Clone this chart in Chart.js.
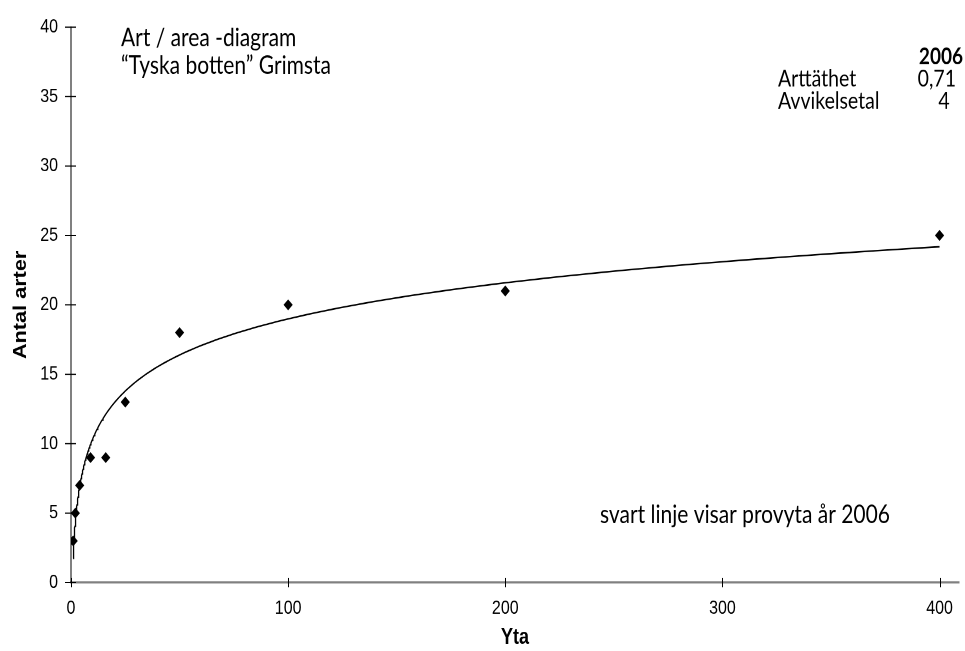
<!DOCTYPE html>
<html>
<head>
<meta charset="utf-8">
<script src="https://cdn.jsdelivr.net/npm/chart.js@4.4.1/dist/chart.umd.min.js"></script>
<style>
  html, body { margin: 0; padding: 0; background: #fff; }
  #page { width: 965px; height: 651px; overflow: hidden; position: relative; }
  /* originalbilden är något utdragen på höjden, därför ritas diagrammet lägre och sträcks */
  #wrap { position: absolute; left: 0; top: 0; width: 965px; height: 542px; transform: scaleY(1.2011); transform-origin: 0 0; }
</style>
</head>
<body>
<div id="page"><div id="wrap"><canvas id="c" width="965" height="542"></canvas></div></div>
<script>
/* data */
const areas   = [1, 2, 4, 9, 16, 25, 50, 100, 200, 400];   // Yta
const species = [3, 5, 7, 9, 9, 13, 18, 20, 21, 25];        // Antal arter
const xTicks = [0, 100, 200, 300, 400];
const yTicks = [0, 5, 10, 15, 20, 25, 30, 35, 40];

const noteLines = ['Art / area -diagram', '\u201CTyska botten\u201D Grimsta'];
const statYear = '2006';
const statNames = ['Arttäthet', 'Avvikelsetal'];
const statValues = ['0,71', '4'];
const footNote = 'svart linje visar provyta år 2006';

// logaritmisk trendlinje (minsta kvadrat) y = a*ln(x) + b, som i Excel
function logFit(xs, ys){
  const ls = xs.map(Math.log);
  const n = xs.length;
  const ml = ls.reduce((s,v)=>s+v,0)/n;
  const my = ys.reduce((s,v)=>s+v,0)/n;
  let sxy = 0, sxx = 0;
  ls.forEach((l,i)=>{ sxy += (l-ml)*(ys[i]-my); sxx += (l-ml)*(l-ml); });
  const a = sxy/sxx;
  return { a, b: my - a*ml };
}
const fit = logFit(areas, species);
const xMin = Math.min(...areas), xMax = Math.max(...areas);
const trend = [];
for (let x = xMin; x < xMax; x *= 1.03) trend.push({ x, y: fit.a*Math.log(x) + fit.b });
trend.push({ x: xMax, y: fit.a*Math.log(xMax) + fit.b });

const FONT_AX = "Arial, 'Liberation Sans', Helvetica, sans-serif";
const FONT_NOTE = "Lato, 'Open Sans', sans-serif";

// korsande tickmarkeringar som i Excel
const crossTicks = {
  id: 'crossTicks',
  afterDraw(chart){
    const {ctx, scales:{x, y}} = chart;
    ctx.save();
    ctx.strokeStyle = '#000';
    ctx.lineWidth = 1;
    ctx.beginPath();
    yTicks.forEach(v=>{
      const py = y.getPixelForValue(v);
      ctx.moveTo(x.left - 6, py); ctx.lineTo(x.left + 5, py);
    });
    xTicks.forEach(v=>{
      const px = Math.round(x.getPixelForValue(v)) + 0.5;
      ctx.moveTo(px, y.bottom - 4); ctx.lineTo(px, y.bottom + 4);
    });
    ctx.stroke();
    ctx.restore();
  }
};

const notes = {
  id: 'notes',
  afterDraw(chart){
    const ctx = chart.ctx;
    ctx.save();
    ctx.fillStyle = '#000';
    ctx.textBaseline = 'alphabetic';
    ctx.font = `21px ${FONT_NOTE}`;
    ctx.textAlign = 'left';
    ctx.fillText(noteLines[0], 121, 38.3);
    ctx.fillText(noteLines[1], 121, 61.6);
    ctx.fillText(footNote, 600, 435.4);
    ctx.font = `bold 19px ${FONT_NOTE}`;
    ctx.textAlign = 'right';
    ctx.fillText(statYear, 963, 53.3);
    ctx.font = `19.5px ${FONT_NOTE}`;
    ctx.textAlign = 'left';
    ctx.fillText(statNames[0], 778, 72);
    ctx.fillText(statNames[1], 778, 90.5);
    ctx.textAlign = 'right';
    ctx.fillText(statValues[0], 956, 72);
    ctx.textAlign = 'center';
    ctx.fillText(statValues[1], 944, 90.5);
    ctx.restore();
  }
};

new Chart(document.getElementById('c'), {
  type: 'scatter',
  data: {
    datasets: [
      {
        label: 'Antal arter',
        data: areas.map((x,i)=>({ x, y: species[i] })),
        pointStyle: 'rectRot',
        pointRadius: 4.6,
        backgroundColor: '#000',
        borderColor: '#000',
        borderWidth: 0,
        order: 1
      },
      {
        label: 'trend',
        data: trend,
        showLine: true,
        pointRadius: 0,
        borderColor: '#000',
        borderWidth: 1.3,
        fill: false,
        order: 2
      }
    ]
  },
  options: {
    responsive: false,
    animation: false,
    devicePixelRatio: 2,
    layout: { padding: { top: 16, right: 1, bottom: 0, left: 0 } },
    plugins: { legend: { display: false }, tooltip: { enabled: false } },
    scales: {
      x: {
        type: 'linear',
        min: 0, max: 409,
        afterBuildTicks: s => { s.ticks = xTicks.map(v=>({ value: v })); },
        afterFit: s => { s.height = 57; },
        grid: { display: false, drawTicks: false },
        border: { display: true, color: '#808080', width: 1.7 },
        ticks: { color: '#000', font: { family: FONT_AX, size: 16 }, padding: 12, maxRotation: 0 },
        title: { display: true, text: 'Yta', color: '#000', font: { family: FONT_AX, size: 18, weight: 'bold' }, padding: { top: 4, bottom: 0 } }
      },
      y: {
        type: 'linear',
        min: 0, max: 40,
        afterBuildTicks: s => { s.ticks = yTicks.map(v=>({ value: v })); },
        afterFit: s => { s.width = 71; },
        grid: { display: false, drawTicks: false },
        border: { display: true, color: '#000', width: 1 },
        ticks: { color: '#000', font: { family: FONT_AX, size: 16 }, padding: 13 },
        title: { display: true, text: 'Antal arter', color: '#000', font: { family: FONT_AX, size: 18, weight: 'bold' }, padding: { top: 10, bottom: 0 } }
      }
    }
  },
  plugins: [crossTicks, notes]
});
</script>
</body>
</html>
